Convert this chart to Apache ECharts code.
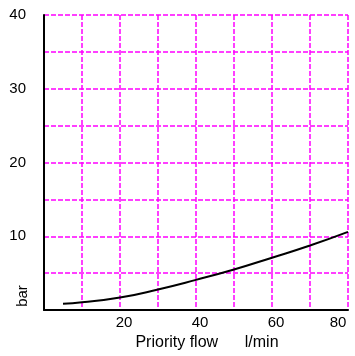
<!DOCTYPE html>
<html>
<head>
<meta charset="utf-8">
<script src="https://cdn.jsdelivr.net/npm/echarts@6/dist/echarts.min.js"></script>
<style>
html,body{margin:0;padding:0;background:#fff;}
#chart{width:355px;height:356px;}
</style>
</head>
<body>
<div id="chart"></div>
<script>
const flowValues = [5, 10, 20, 30, 40, 50, 60, 70, 80];
const pressureValues = [0.85, 1.05, 1.7, 2.8, 4.1, 5.5, 7.1, 8.75, 10.6];
const xTickLabels = [20, 40, 60, 80];
const yTickLabels = [10, 20, 30, 40];
const xAxisTitle = 'Priority flow      l/min';
const yAxisTitle = 'bar';

const chart = echarts.init(document.getElementById('chart'));
const font = 'Liberation Sans, Arial, sans-serif';
const grid = '#ff00ff';
chart.setOption({
  animation: false,
  grid: {left: 44, right: 7, top: 15, bottom: 38},
  xAxis: {
    type: 'value', min: 0, max: 80, interval: 10,
    axisLine: {show: true, onZero: false, lineStyle: {color: '#000', width: 2}},
    axisTick: {show: false},
    splitLine: {show: true, lineStyle: {color: grid, type: [5, 2], width: 1.5}},
    axisLabel: {
      margin: 5, color: '#000', fontSize: 15, fontFamily: font,
      formatter: v => xTickLabels.includes(v) ? (v === 80 ? '{b|' + v + '}' : '{a|' + v + '}') : '',
      rich: {
        a: {fontSize: 15, fontFamily: font, color: '#000', padding: [0, 0, 0, 8]},
        b: {fontSize: 15, fontFamily: font, color: '#000', padding: [0, 20, 0, 0]}
      }
    },
    name: xAxisTitle, nameLocation: 'middle', nameGap: 22,
    nameTextStyle: {color: '#000', fontSize: 16, fontFamily: font, padding: [0, 0, 0, 22]}
  },
  yAxis: {
    type: 'value', min: 0, max: 40, interval: 5,
    axisLine: {show: true, onZero: false, lineStyle: {color: '#000', width: 2}},
    axisTick: {show: false},
    splitLine: {show: true, lineStyle: {color: grid, type: [5, 2], width: 1.5}},
    axisLabel: {
      margin: 18, color: '#000', fontSize: 15, fontFamily: font,
      formatter: v => yTickLabels.includes(v) ? String(v) : ''
    }
  },
  graphic: [{
    type: 'text', x: 23, y: 296, rotation: Math.PI / 2,
    style: {text: yAxisTitle, fill: '#000', fontSize: 15, fontFamily: font, align: 'center', verticalAlign: 'middle'}
  }],
  series: [{
    type: 'line',
    data: flowValues.map((x, i) => [x, pressureValues[i]]),
    smooth: true, showSymbol: false,
    lineStyle: {color: '#000', width: 2}
  }]
});
</script>
</body>
</html>
